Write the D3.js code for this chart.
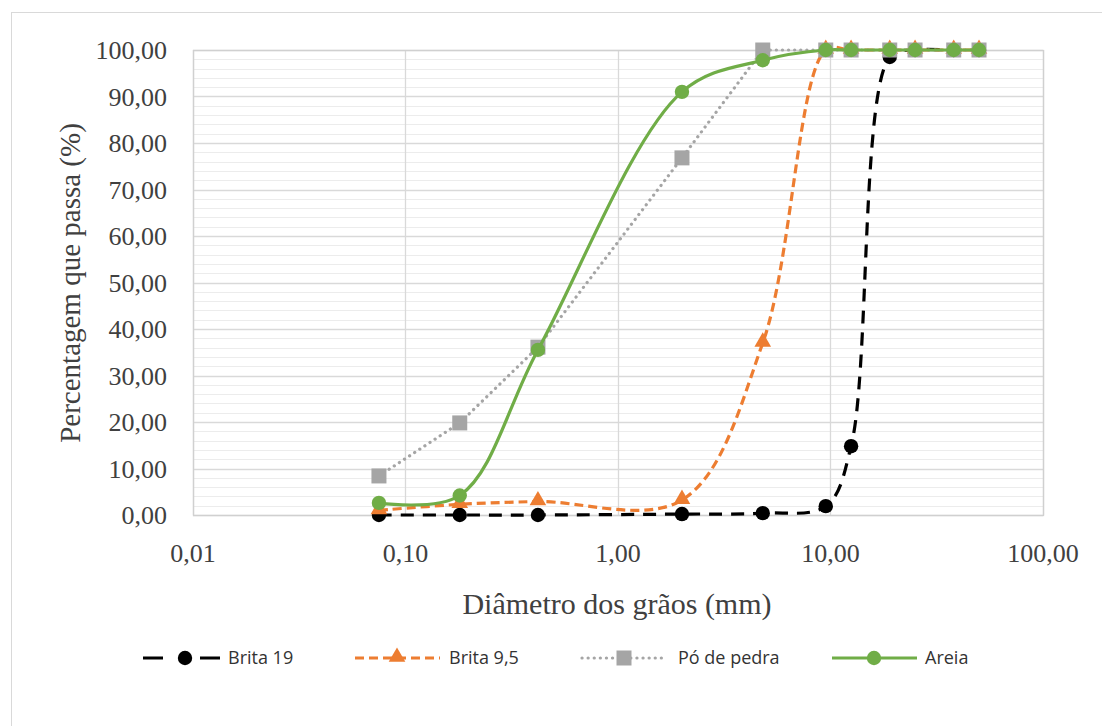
<!DOCTYPE html>
<html>
<head>
  <meta charset="utf-8">
  <title>Curva granulométrica</title>
  <script src="https://d3js.org/d3.v7.min.js"></script>
  <style>
    body { margin: 0; background: #fff; }
    svg { display: block; }
    .tick-label { font-family: "Liberation Serif", "Times New Roman", serif; font-size: 26px; fill: #404040; }
    .axis-title { font-family: "Liberation Serif", "Times New Roman", serif; fill: #404040; }
    .legend-label { font-family: "Open Sans", "Noto Sans", sans-serif; font-size: 18px; fill: #333; }
  </style>
</head>
<body>
<script>
  // sieve openings (mm)
  var sieves = [0.075, 0.18, 0.42, 2.0, 4.8, 9.5, 12.5, 19, 25, 38, 50];

  // percentage passing for each material
  var brita19  = [0.0, 0.0, 0.0, 0.2, 0.4, 1.9, 14.8, 98.5, 100, 100, 100];
  var brita95  = [1.0, 2.3, 2.9, 3.2, 37.0, 100, 100, 100, 100, 100, 100];
  var poPedra  = [8.4, 19.8, 36.1, 76.8, 100, 100, 100, 100, 100, 100, 100];
  var areia    = [2.6, 4.2, 35.5, 91.0, 97.8, 100, 100, 100, 100, 100, 100];

  var seriesNames = ["Brita 19", "Brita 9,5", "Pó de pedra", "Areia"];
  var xTicks = [0.01, 0.1, 1, 10, 100];
  var yTicks = [0, 10, 20, 30, 40, 50, 60, 70, 80, 90, 100];

  var W = 1102, H = 726;
  var plot = { left: 193, right: 1043, top: 50, bottom: 515 };

  var svg = d3.select(document.body).append("svg")
    .attr("width", W).attr("height", H);

  svg.append("rect").attr("width", W).attr("height", H).attr("fill", "#fff");
  // chart frame (right / bottom edges run off the picture)
  svg.append("rect")
    .attr("x", 11.5).attr("y", 12.5)
    .attr("width", W + 20).attr("height", H + 20)
    .attr("fill", "none").attr("stroke", "#d9d9d9");

  var x = d3.scaleLog().domain([0.01, 100]).range([plot.left, plot.right]);
  var y = d3.scaleLinear().domain([0, 100]).range([plot.bottom, plot.top]);

  var fmt = function (v) { return d3.format(".2f")(v).replace(".", ","); };

  // minor horizontal gridlines
  var g = svg.append("g");
  g.selectAll("line.minor")
    .data(d3.range(0, 101, 2).filter(function (d) { return d % 10 !== 0; }))
    .enter().append("line")
    .attr("x1", plot.left).attr("x2", plot.right)
    .attr("y1", function (d) { return Math.round(y(d)) + 0.5; })
    .attr("y2", function (d) { return Math.round(y(d)) + 0.5; })
    .attr("stroke", "#ececec").attr("stroke-width", 1);

  // major gridlines
  g.selectAll("line.hmaj").data(yTicks).enter().append("line")
    .attr("x1", plot.left).attr("x2", plot.right)
    .attr("y1", function (d) { return Math.round(y(d)) + 0.5; })
    .attr("y2", function (d) { return Math.round(y(d)) + 0.5; })
    .attr("stroke", "#d9d9d9").attr("stroke-width", 1.3);
  g.selectAll("line.vmaj").data(xTicks).enter().append("line")
    .attr("x1", function (d) { return Math.round(x(d)) + 0.5; })
    .attr("x2", function (d) { return Math.round(x(d)) + 0.5; })
    .attr("y1", plot.top).attr("y2", plot.bottom)
    .attr("stroke", "#d9d9d9").attr("stroke-width", 1.3);

  g.append("rect")
    .attr("x", plot.left + 0.5).attr("y", plot.top + 0.5)
    .attr("width", plot.right - plot.left).attr("height", plot.bottom - plot.top)
    .attr("fill", "none").attr("stroke", "#d0d0d0").attr("stroke-width", 1.3);

  // tick labels
  svg.append("g").selectAll("text").data(yTicks).enter().append("text")
    .attr("class", "tick-label")
    .attr("x", 167).attr("y", function (d) { return y(d); })
    .attr("dy", "0.35em").attr("text-anchor", "end")
    .text(fmt);

  svg.append("g").selectAll("text").data(xTicks).enter().append("text")
    .attr("class", "tick-label")
    .attr("x", function (d) { return x(d); }).attr("y", 553)
    .attr("dy", "0.35em").attr("text-anchor", "middle")
    .text(function (d) { return fmt(d); });

  // axis titles
  svg.append("text").attr("class", "axis-title")
    .attr("x", 617).attr("y", 603).attr("dy", "0.35em")
    .attr("text-anchor", "middle").style("font-size", "30px")
    .text("Diâmetro dos grãos (mm)");

  svg.append("text").attr("class", "axis-title")
    .attr("transform", "translate(70,283) rotate(-90)")
    .attr("dy", "0.35em").attr("text-anchor", "middle").style("font-size", "29px")
    .text("Percentagem que passa (%)");

  // series
  var smooth = d3.line()
    .x(function (d) { return x(d[0]); })
    .y(function (d) { return y(d[1]); })
    .curve(d3.curveCatmullRom.alpha(0.5));
  var straight = d3.line()
    .x(function (d) { return x(d[0]); })
    .y(function (d) { return y(d[1]); });

  var styles = [
    { values: brita19, color: "#000000", dash: "13,9", cap: "butt", line: smooth, marker: "circle", legendDash: "20,37" },
    { values: brita95, color: "#ED7D31", dash: "9,5", cap: "butt", line: smooth, marker: "triangle", legendDash: "9,5" },
    { values: poPedra, color: "#A5A5A5", dash: "0.1,6", cap: "round", line: straight, marker: "square", legendDash: "0.1,6" },
    { values: areia,   color: "#70AD47", dash: null, cap: "butt", line: smooth, marker: "circle", legendDash: null }
  ];

  function drawMarker(sel, type, color, cx, cy) {
    if (type === "circle") {
      sel.append("circle").attr("cx", cx).attr("cy", cy).attr("r", 7.2).attr("fill", color);
    } else if (type === "square") {
      sel.append("rect").attr("x", cx - 7.5).attr("y", cy - 7.5)
        .attr("width", 15).attr("height", 15).attr("fill", color);
    } else {
      sel.append("path")
        .attr("d", d3.symbol().type(d3.symbolTriangle).size(120)())
        .attr("transform", "translate(" + cx + "," + (cy - 1) + ")")
        .attr("fill", color);
    }
  }

  var seriesG = svg.append("g");
  styles.forEach(function (s) {
    var pts = sieves.map(function (d, i) { return [d, s.values[i]]; });
    var sg = seriesG.append("g");
    sg.append("path").attr("d", s.line(pts))
      .attr("fill", "none").attr("stroke", s.color).attr("stroke-width", 3.2)
      .attr("stroke-dasharray", s.dash).attr("stroke-linecap", s.cap);
    pts.forEach(function (p) { drawMarker(sg, s.marker, s.color, x(p[0]), y(p[1])); });
  });

  // legend
  var legendX = [143, 355, 582, 832];
  var legendTextX = [85, 94, 96, 93];
  var legendY = 658;
  var lg = svg.append("g");
  styles.forEach(function (s, i) {
    var item = lg.append("g").attr("transform", "translate(" + legendX[i] + "," + legendY + ")");
    item.append("line").attr("x1", 0).attr("x2", i === 0 ? 77 : 85).attr("y1", 0).attr("y2", 0)
      .attr("stroke", s.color).attr("stroke-width", 3.2)
      .attr("stroke-dasharray", s.legendDash)
      .attr("stroke-linecap", s.cap);
    drawMarker(item, s.marker, s.color, 42, 0);
    item.append("text").attr("class", "legend-label")
      .attr("x", legendTextX[i]).attr("y", 0).attr("dy", "0.35em")
      .text(seriesNames[i]);
  });
</script>
</body>
</html>
